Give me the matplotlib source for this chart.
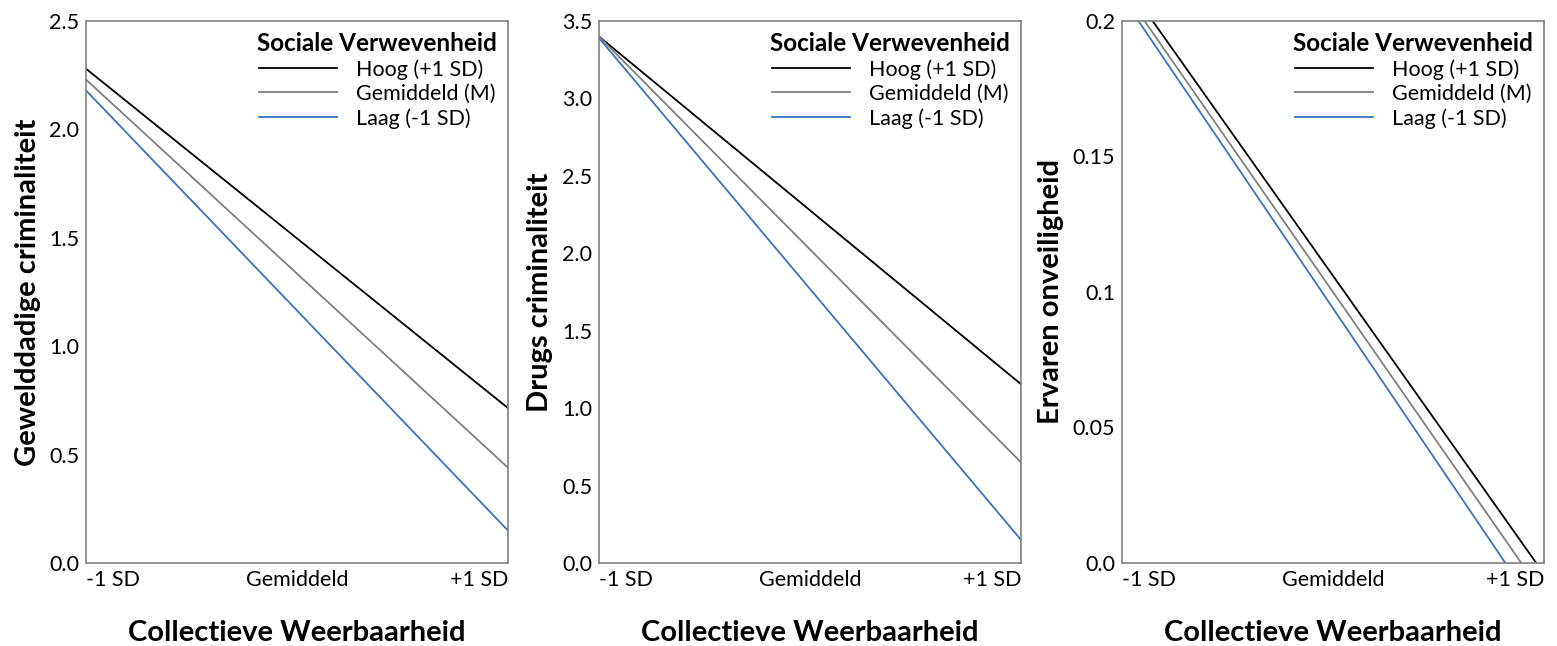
import matplotlib
matplotlib.use("Agg")
import matplotlib.pyplot as plt

plt.rcParams['font.family'] = ['Lato', 'DejaVu Sans']

# x positions: -1 SD and +1 SD of Collectieve Weerbaarheid
x_vals = [-1, 1]
x_ticks = [-1, 0, 1]
x_ticklabels = ['-1 SD', 'Gemiddeld', '+1 SD']

series_labels = ['Hoog (+1 SD)', 'Gemiddeld (M)', 'Laag (-1 SD)']
series_colors = ['#000000', '#808080', '#3b72c0']

# panel 1: Gewelddadige criminaliteit
geweld_hoog = [2.28, 0.715]
geweld_gem = [2.23, 0.44]
geweld_laag = [2.18, 0.15]

# panel 2: Drugs criminaliteit
drugs_hoog = [3.40, 1.155]
drugs_gem = [3.40, 0.65]
drugs_laag = [3.39, 0.15]

# panel 3: Ervaren onveiligheid
onveilig_hoog = [0.216, -0.004]
onveilig_gem = [0.212, -0.012]
onveilig_laag = [0.209, -0.021]

panels = [
    ('Gewelddadige criminaliteit', [geweld_hoog, geweld_gem, geweld_laag],
     [0, 0.5, 1.0, 1.5, 2.0, 2.5], ['0.0', '0.5', '1.0', '1.5', '2.0', '2.5'], 2.5),
    ('Drugs criminaliteit', [drugs_hoog, drugs_gem, drugs_laag],
     [0, 0.5, 1.0, 1.5, 2.0, 2.5, 3.0, 3.5],
     ['0.0', '0.5', '1.0', '1.5', '2.0', '2.5', '3.0', '3.5'], 3.5),
    ('Ervaren onveiligheid', [onveilig_hoog, onveilig_gem, onveilig_laag],
     [0, 0.05, 0.1, 0.15, 0.2], ['0.0', '0.05', '0.1', '0.15', '0.2'], 0.2),
]

fig = plt.figure(figsize=(15.57, 6.46), dpi=100)
lefts = [0.0552, 0.3847, 0.7206]
width = 0.271
bottom = 0.1285
height = 0.839

for left, (ylabel, series, yticks, yticklabels, ymax) in zip(lefts, panels):
    ax = fig.add_axes([left, bottom, width, height])
    for vals, lab, col in zip(series, series_labels, series_colors):
        ax.plot(x_vals, vals, color=col, lw=1.3, label=lab)
    ax.set_xlim(-1, 1)
    ax.set_ylim(0, ymax)
    ax.set_xticks(x_ticks)
    ax.set_xticklabels(x_ticklabels, fontsize=15.5)
    labs = ax.get_xticklabels()
    labs[0].set_ha('left')
    labs[2].set_ha('right')
    ax.set_yticks(yticks)
    ax.set_yticklabels(yticklabels, fontsize=15.5)
    ax.tick_params(length=0, pad=5)
    for s in ax.spines.values():
        s.set_color('#808080')
        s.set_linewidth(1.2)
    ax.set_xlabel('Collectieve Weerbaarheid', fontsize=21, fontweight='bold', labelpad=22)
    ax.set_ylabel(ylabel, fontsize=21, fontweight='bold', labelpad=6)
    leg = ax.legend(title='Sociale Verwevenheid', loc='upper right', frameon=False,
                    fontsize=15.5, handlelength=3.6, handletextpad=0.9,
                    borderaxespad=0.2, labelspacing=0.2, borderpad=0.3)
    leg.get_title().set_fontweight('bold')
    leg.get_title().set_fontsize(17.5)

fig.savefig('out.png', dpi=100)
